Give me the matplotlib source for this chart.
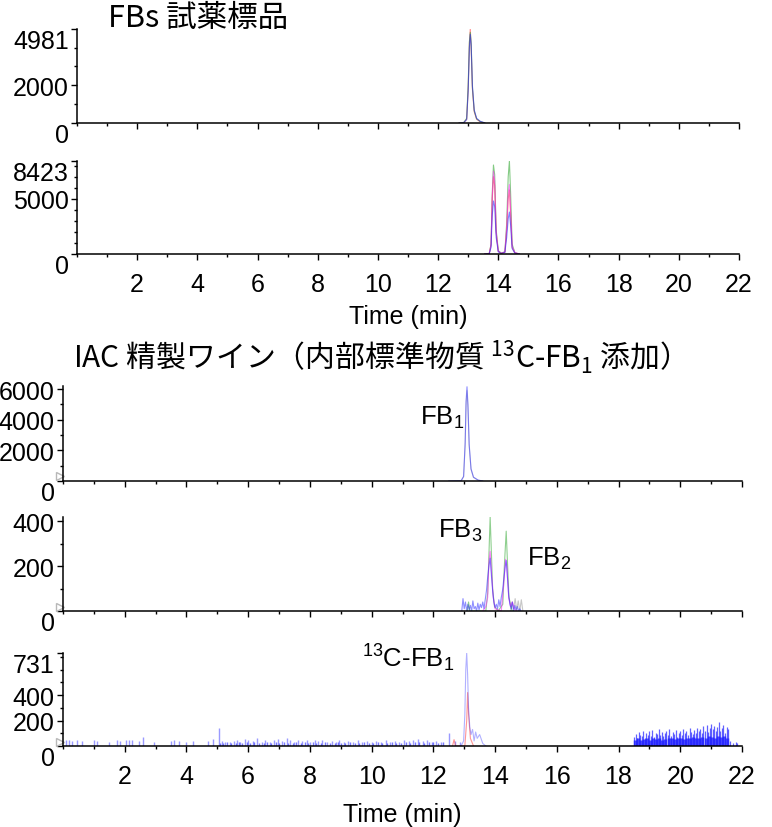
import matplotlib
matplotlib.use('Agg')
import matplotlib.pyplot as plt
from matplotlib.ticker import MultipleLocator

plt.rcParams['font.family'] = ['Liberation Sans', 'DejaVu Sans']
plt.rcParams['mathtext.fontset'] = 'custom'
plt.rcParams['mathtext.rm'] = 'Liberation Sans'
plt.rcParams['mathtext.it'] = 'Liberation Sans'
plt.rcParams['mathtext.default'] = 'regular'

W, H = 772, 828

# --- FBs 試薬標品 : FB1 ---
t1 = [12.70, 12.85, 12.95, 13.00, 13.04, 13.07, 13.10, 13.14, 13.20, 13.28, 13.40, 13.55]
p1_red = [0, 10, 200, 1800, 4200, 4981, 3900, 1800, 600, 200, 60, 0]
p1_green = [0, 15, 250, 2000, 4300, 4800, 4200, 1900, 650, 220, 80, 0]
p1_blue = [0, 20, 180, 1700, 4000, 4700, 4100, 2000, 700, 250, 90, 10]

# --- FBs 試薬標品 : FB3 / FB2 ---
t2 = [13.55, 13.70, 13.76, 13.80, 13.84, 13.88, 13.93, 14.00, 14.10, 14.22, 14.28,
      14.33, 14.37, 14.41, 14.46, 14.55, 14.70]
p2_green = [0, 50, 900, 5500, 8060, 7200, 2200, 300, 80, 200, 2800, 7000, 8423, 5500, 900, 120, 0]
p2_magenta = [0, 40, 800, 5200, 7500, 6600, 2000, 250, 60, 180, 2400, 5600, 6300, 4000, 700, 150, 0]
p2_red = [0, 40, 850, 5000, 7000, 6200, 1900, 240, 60, 170, 2200, 5000, 5800, 3600, 600, 100, 0]
p2_blue = [0, 30, 600, 3500, 4800, 4300, 1500, 200, 50, 150, 1500, 3200, 3800, 2600, 500, 80, 0]

# --- IAC 精製ワイン : FB1 ---
t3 = [12.50, 12.90, 12.98, 13.03, 13.06, 13.09, 13.12, 13.16, 13.22, 13.30, 13.45, 13.60]
p3_blue = [0, 20, 300, 2500, 5200, 6150, 5000, 2400, 800, 250, 60, 0]
p3_grey = [0, 15, 280, 2300, 5000, 5900, 4800, 2300, 750, 230, 50, 0]

# --- IAC 精製ワイン : FB3 / FB2 ---
t4 = [12.92, 12.96, 13.00, 13.04, 13.08, 13.12, 13.16, 13.20, 13.24, 13.28, 13.32, 13.36,
      13.40, 13.44, 13.48, 13.52, 13.56, 13.60, 13.64, 13.68, 13.72, 13.76, 13.80, 13.84,
      13.88, 13.92, 13.96, 14.00, 14.04, 14.08, 14.12, 14.16, 14.20, 14.24, 14.28, 14.32,
      14.36, 14.40, 14.44, 14.48, 14.52, 14.56, 14.60, 14.64, 14.68, 14.72, 14.76, 14.80, 14.84]
p4_blue = [0, 55, 10, 40, 0, 30, 5, 25, 0, 45, 10, 20, 0, 35, 5, 30, 15, 40, 10, 50, 90, 150,
           200, 235, 160, 90, 40, 15, 30, 10, 50, 20, 60, 90, 140, 190, 225, 150, 70, 30, 10,
           40, 0, 25, 5, 20, 0, 10, 0]
t4_green = [13.10, 13.14, 13.18, 13.70, 13.76, 13.80, 13.84, 13.87, 13.92, 13.98, 14.10,
            14.25, 14.30, 14.36, 14.40, 14.45, 14.55, 14.60]
p4_green = [0, 40, 0, 0, 80, 250, 418, 300, 100, 20, 0, 30, 200, 355, 220, 60, 0, 0]
t4_magenta = [13.60, 13.70, 13.76, 13.80, 13.84, 13.88, 13.94, 14.00, 14.20, 14.28, 14.34,
              14.38, 14.44, 14.50, 14.56, 14.62, 14.70]
p4_magenta = [0, 20, 60, 220, 265, 180, 60, 10, 0, 120, 230, 200, 60, 20, 40, 10, 0]
t4_grey = [14.50, 14.55, 14.60, 14.65, 14.70, 14.75, 14.80, 14.85, 14.90]
p4_grey = [0, 40, 10, 55, 5, 45, 0, 50, 0]

# --- IAC 精製ワイン : 13C-FB1 ---
t5 = [12.90, 12.98, 13.02, 13.05, 13.08, 13.11, 13.14, 13.18, 13.22, 13.27, 13.32, 13.37,
      13.42, 13.50, 13.60, 13.70]
p5_blue = [0, 40, 250, 600, 731, 560, 300, 150, 90, 130, 40, 110, 60, 90, 20, 0]
t5_red = [12.62, 12.67, 12.72, 13.02, 13.08, 13.11, 13.14, 13.20, 13.30]
p5_red = [0, 50, 0, 0, 200, 420, 250, 60, 0]
noise_t = [0.10, 0.20, 0.30, 0.45, 0.60, 1.00, 1.10, 1.50, 1.75, 1.85, 2.05, 2.15, 2.25, 2.45,
           2.60, 2.95, 3.50, 3.60, 3.75, 4.00, 4.20, 4.70, 4.85, 5.05, 5.15, 5.25, 5.40, 5.55,
           5.65, 5.75, 5.90, 6.00, 6.15, 6.30, 6.45, 6.55, 6.70, 6.85, 6.95, 7.10, 7.25, 7.35,
           7.50, 7.60, 7.75, 7.90, 8.00, 8.15, 8.25, 8.40, 8.55, 8.70, 8.85, 8.95, 9.10, 9.25,
           9.40, 9.55, 9.70, 9.85, 10.00, 10.15, 10.30, 10.45, 10.60, 10.75, 10.90, 11.05,
           11.20, 11.35, 11.50, 11.65, 11.80, 11.95, 12.10, 12.25, 12.50, 12.70, 12.85]
noise_h = [45, 45, 40, 45, 40, 45, 40, 35, 45, 40, 50, 45, 45, 40, 70, 30, 40, 45, 40, 35, 40,
           40, 55, 140, 40, 30, 35, 40, 50, 35, 55, 45, 40, 60, 35, 50, 30, 45, 55, 40, 60, 45,
           35, 50, 40, 45, 35, 50, 40, 45, 35, 40, 30, 45, 35, 40, 30, 45, 35, 40, 30, 40, 35,
           45, 30, 40, 35, 50, 40, 45, 55, 40, 45, 35, 40, 30, 100, 40, 35]
dense_t = [5.10, 5.20, 5.30, 5.45, 5.60, 5.70, 5.80, 5.95, 6.05, 6.20, 6.35, 6.50, 6.60, 6.75,
           6.90, 7.00, 7.15, 7.30, 7.45, 7.55, 7.70, 7.85, 7.95, 8.10, 8.20, 8.35, 8.50, 8.65,
           8.80, 8.90, 9.00, 9.15, 9.30, 9.45, 9.60, 9.75, 9.90, 10.05, 10.20, 10.35, 10.50,
           10.65, 10.80, 10.95, 11.10, 11.25, 11.40, 11.55, 11.70, 11.85, 12.00, 12.15, 12.30]
dense_h = [25, 20, 30, 25, 20, 30, 25, 35, 20, 30, 25, 20, 30, 25, 35, 20, 30, 25, 20, 30, 25,
           35, 20, 30, 25, 20, 30, 25, 25, 30, 20, 25, 30, 20, 25, 30, 20, 25, 30, 20, 25, 30,
           25, 20, 30, 25, 35, 30, 25, 35, 30, 25, 30]
late_t = [18.50, 18.55, 18.60, 18.65, 18.70, 18.75, 18.80, 18.85, 18.90, 18.95,
          19.00, 19.05, 19.10, 19.15, 19.20, 19.25, 19.30, 19.35, 19.40, 19.45,
          19.50, 19.55, 19.60, 19.65, 19.70, 19.75, 19.80, 19.85, 19.90, 19.95,
          20.00, 20.05, 20.10, 20.15, 20.20, 20.25, 20.30, 20.35, 20.40, 20.45,
          20.50, 20.55, 20.60, 20.65, 20.70, 20.75, 20.80, 20.85, 20.90, 20.95,
          21.00, 21.05, 21.10, 21.15, 21.20, 21.25, 21.30, 21.35, 21.40, 21.45,
          21.50, 21.55, 21.60, 21.65, 21.70, 21.75, 21.80, 21.85]
late_h = [70, 95, 60, 110, 85, 75, 120, 65, 100, 90,
          115, 80, 125, 70, 105, 95, 130, 85, 110, 75,
          100, 120, 90, 135, 80, 110, 95, 125, 70, 105,
          115, 90, 130, 100, 120, 85, 140, 110, 95, 125,
          105, 145, 115, 130, 100, 155, 120, 165, 110, 140,
          175, 130, 160, 120, 150, 185, 115, 140, 165, 100,
          150, 130, 40, 0, 25, 0, 30, 20]
late_base_t = [18.52, 18.62, 18.72, 18.82, 18.92, 19.02, 19.12, 19.22, 19.32, 19.42, 19.52,
               19.62, 19.72, 19.82, 19.92, 20.02, 20.12, 20.22, 20.32, 20.42, 20.52, 20.62,
               20.72, 20.82, 20.92, 21.02, 21.12, 21.22, 21.32, 21.42, 21.52]
late_base_h = [50, 60, 45, 55, 60, 50, 65, 55, 60, 50, 55, 65, 60, 55, 60, 65, 55, 60, 65, 70,
               60, 65, 70, 60, 75, 70, 65, 80, 70, 75, 60]

RED, GREEN, BLUE, MAG, GREY = '#ff3030', '#20a020', '#2020ff', '#ff30ff', '#909090'
FS = 18


def make_axes(fig, l, t, r, b):
    return fig.add_axes([l / W, 1 - b / H, (r - l) / W, (b - t) / H])


def style(ax, ymax, yticks, ylabels, yminor, xlabels=False):
    ax.set_xlim(0, 22)
    ax.set_ylim(0, ymax)
    for s in ('top', 'right'):
        ax.spines[s].set_visible(False)
    for s in ('left', 'bottom'):
        ax.spines[s].set_linewidth(1.1)
    ax.set_xticks(range(2, 23, 2))
    ax.xaxis.set_minor_locator(MultipleLocator(1))
    ax.set_yticks(yticks, ylabels)
    ax.yaxis.set_minor_locator(MultipleLocator(yminor))
    ax.tick_params(which='major', direction='out', length=4, width=1, labelsize=FS)
    ax.tick_params(which='minor', direction='out', length=2.5, width=1)
    ax.tick_params(axis='x', pad=9, labelbottom=xlabels)
    ax.tick_params(axis='y', pad=2)
    labs = ax.get_yticklabels()
    labs[0].set_va('top')
    return ax


fig = plt.figure(figsize=(W / 100, H / 100), dpi=100)

ax1 = make_axes(fig, 77, 30, 739, 124)
ax2 = make_axes(fig, 77, 162, 739, 255)
ax3 = make_axes(fig, 63, 387, 742, 482)
ax4 = make_axes(fig, 63, 518, 742, 612)
ax5 = make_axes(fig, 63, 654, 742, 747)

# panel 1
for y, c in ((p1_red, RED), (p1_green, GREEN), (p1_blue, BLUE)):
    ax1.plot(t1, y, color=c, lw=0.8, alpha=0.55)
style(ax1, 4981, [0, 2000, 4981], ['0', '2000', '4981'], 1000)
ax1.get_yticklabels()[-1].set_va('top')

# panel 2
for y, c in ((p2_green, GREEN), (p2_red, RED), (p2_magenta, MAG), (p2_blue, BLUE)):
    ax2.plot(t2, y, color=c, lw=0.8, alpha=0.55)
style(ax2, 8423, [0, 5000, 8423], ['0', '5000', '8423'], 1000, xlabels=True)
ax2.get_yticklabels()[-1].set_va('top')
ax2.set_xlabel('Time (min)', fontsize=FS, labelpad=6)

# panel 3
ax3.plot(t3, p3_grey, color=GREY, lw=0.8, alpha=0.4)
ax3.plot(t3, p3_blue, color=BLUE, lw=0.8, alpha=0.5)
style(ax3, 6200, [0, 2000, 4000, 6000], ['0', '2000', '4000', '6000'], 1000)
ax3.text(11.57, 3740, 'FB$_1$', fontsize=18.5, ha='left', va='baseline')

# panel 4
ax4.plot(t4_grey, p4_grey, color=GREY, lw=0.8, alpha=0.5)
ax4.plot(t4_green, p4_green, color=GREEN, lw=0.8, alpha=0.5)
ax4.plot(t4_magenta, p4_magenta, color=MAG, lw=0.8, alpha=0.6)
ax4.plot(t4, p4_blue, color=BLUE, lw=0.8, alpha=0.5)
style(ax4, 418, [0, 200, 400], ['0', '200', '400'], 100)
ax4.text(12.15, 329, 'FB$_3$', fontsize=18.5, ha='left', va='baseline')
ax4.text(15.04, 204, 'FB$_2$', fontsize=18.5, ha='left', va='baseline')

# panel 5
ax5.vlines(noise_t, 0, noise_h, color=BLUE, lw=1.0, alpha=0.45)
ax5.vlines(dense_t, 0, dense_h, color=BLUE, lw=1.0, alpha=0.6)
ax5.vlines(late_base_t, 0, late_base_h, color=BLUE, lw=2.5, alpha=0.8)
ax5.vlines(late_t, 0, late_h, color=BLUE, lw=0.9, alpha=0.7)
ax5.plot(t5_red, p5_red, color=RED, lw=0.8, alpha=0.5)
ax5.plot(t5, p5_blue, color=BLUE, lw=0.8, alpha=0.35)
style(ax5, 731, [0, 200, 400, 731], ['0', '200', '400', '731'], 100, xlabels=True)
ax5.get_yticklabels()[-1].set_va('top')
ax5.set_xlabel('Time (min)', fontsize=FS, labelpad=10)
ax5.text(9.69, 629, '$^{13}$C-FB$_1$', fontsize=18.5, ha='left', va='baseline')

# small grey start markers
for ax, y in ((ax3, 330), (ax4, 18), (ax5, 30)):
    ax.plot([-0.1], [y], marker='>', ms=6, mfc='none', mec='#b8b8b8', mew=1, clip_on=False)

fig.text(108 / W, 1 - 27 / H, 'FBs 試薬標品', fontsize=22, family='Noto Sans CJK JP',
         ha='left', va='baseline')
fig.text(73 / W, 1 - 368 / H, 'IAC 精製ワイン（内部標準物質 $^{13}$C-FB$_1$ 添加）',
         fontsize=21.5, family='Noto Sans CJK JP', ha='left', va='baseline')

fig.savefig('out.png', dpi=100)
